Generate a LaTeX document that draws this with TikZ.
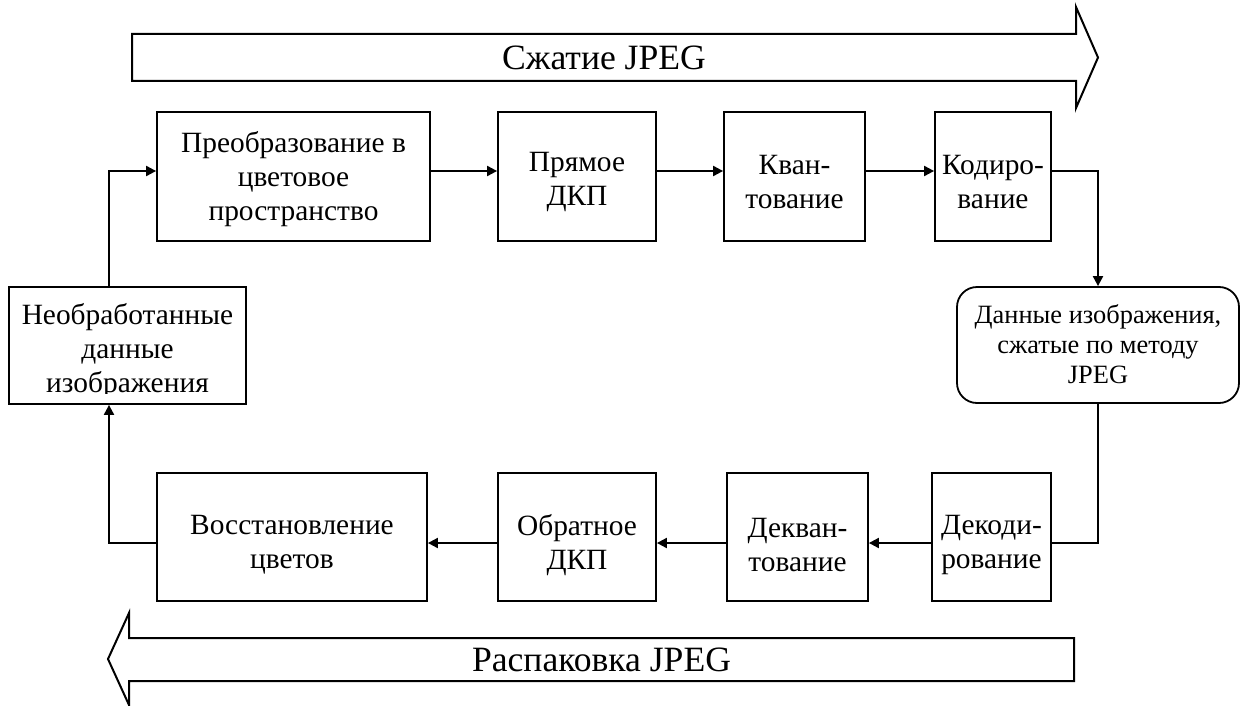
\documentclass[tikz,border=0pt]{standalone}
\usepackage{fontspec}
\setmainfont{Liberation Serif}
\usetikzlibrary{arrows.meta,calc}
\newcommand\bxfont{\fontsize{14.7pt}{17pt}\selectfont}
\newcommand\dtfont{\fontsize{13.2pt}{15pt}\selectfont}
\newcommand\arfont{\fontsize{17.8pt}{20pt}\selectfont}
\begin{document}
\begin{tikzpicture}[x=0.5pt,y=-0.5pt,
  box/.style={draw,line width=0.9pt,inner sep=0pt},
  lbl/.style={font=\bxfont,align=center,inner sep=0pt},
  conn/.style={line width=1pt},
  arr/.style={conn,-{Triangle[length=5pt,width=5pt]}},
  bigarrow/.style={draw,line width=1pt,line join=miter}]
\useasboundingbox (0,0) rectangle (1241,706);
% big arrows
\draw[bigarrow] (132,34) -- (1076,34) -- (1076,7) -- (1098,57.5) -- (1076,108) -- (1076,81) -- (132,81) -- cycle;
\node[font=\arfont] (tcomp) at (604,58) {Сжатие JPEG};
\draw[bigarrow] (1074,638) -- (129,638) -- (129,613) -- (108,659) -- (129,705) -- (129,681) -- (1074,681) -- cycle;
\node[font=\arfont] (tdec) at (601.5,660) {Распаковка JPEG};
% top row
\node[box,minimum width=136.5pt,minimum height=64.5pt] (b1) at (293.5,176.5) {};
\node[lbl,yshift=-1.5pt] (b1t) at (b1) {Преобразование в\\цветовое\\пространство};
\node[box,minimum width=79pt,minimum height=64.5pt] (b2) at (577,176.5) {};
\node[lbl,yshift=-3pt] (b2t) at (b2) {Прямое\\ДКП};
\node[box,minimum width=70.5pt,minimum height=64.5pt] (b3) at (794.5,176.5) {};
\node[lbl,yshift=-3pt] (b3t) at (b3) {Кван-\\тование};
\node[box,minimum width=58pt,minimum height=64.5pt] (b4) at (993,176.5) {};
\node[lbl,yshift=-3pt] (b4t) at (b4) {Кодиро-\\вание};
% data
\node[box,rounded corners=10pt,minimum width=141pt,minimum height=58pt] (data) at (1098,345) {};
\node[lbl,font=\dtfont,yshift=0.5pt] (datat) at (data) {Данные изображения,\\сжатые по методу\\JPEG};
% raw
\node[box,minimum width=118.5pt,minimum height=58.5pt] (raw) at (127.5,345.5) {};
\begin{scope}
\clip (raw.north west) rectangle (246,393);
\node[lbl] (rawt) at (127.5,351) {Необработанные\\данные\\изображения};
\end{scope}
% bottom row
\node[box,minimum width=135pt,minimum height=64pt] (d4) at (292,537) {};
\node[lbl,yshift=-4pt] (d4t) at (d4) {Восстановление\\цветов};
\node[box,minimum width=79pt,minimum height=64pt] (d3) at (577,537) {};
\node[lbl,yshift=-4pt] (d3t) at (d3) {Обратное\\ДКП};
\node[box,minimum width=70.5pt,minimum height=64pt] (d2) at (797.5,537) {};
\node[lbl,yshift=-4pt] (d2t) at (d2) {Декван-\\тование};
\node[box,minimum width=59.5pt,minimum height=64pt] (d1) at (991.5,537) {};
\node[lbl,yshift=-4pt] (d1t) at (d1) {Декоди-\\рование};
% connectors
\coordinate (ra) at (0,171);
\coordinate (rb) at (0,543);
\coordinate (cx) at (109,0);
\draw[arr] (b1.east |- ra) -- (b2.west |- ra);
\draw[arr] (b2.east |- ra) -- (b3.west |- ra);
\draw[arr] (b3.east |- ra) -- (b4.west |- ra);
\draw[arr] (b4.east |- ra) -| (data.north);
\draw[conn] (data.south) |- (d1.east |- rb);
\draw[arr] (d1.west |- rb) -- (d2.east |- rb);
\draw[arr] (d2.west |- rb) -- (d3.east |- rb);
\draw[arr] (d3.west |- rb) -- (d4.east |- rb);
\draw[arr] (d4.west |- rb) -| (cx |- raw.south);
\draw[arr] (cx |- raw.north) |- (b1.west |- ra);
\end{tikzpicture}
\end{document}
